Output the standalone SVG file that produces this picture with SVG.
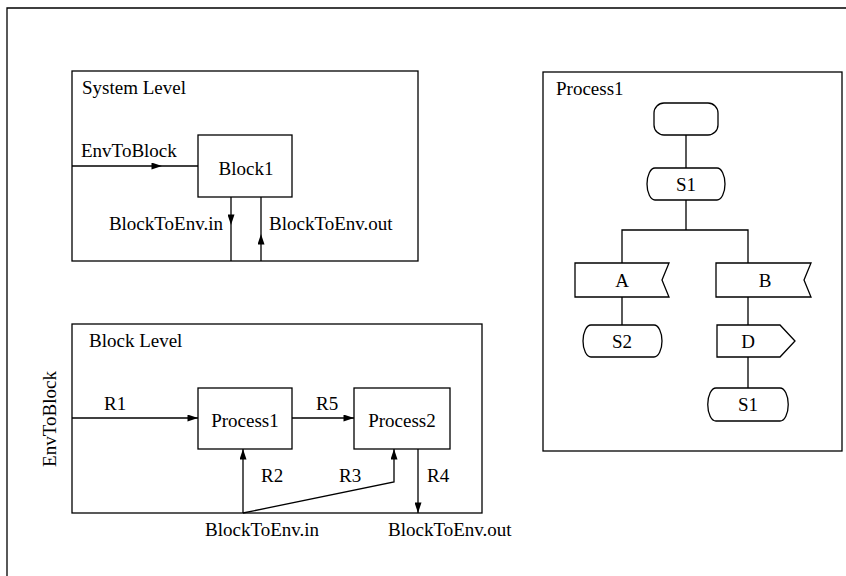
<svg xmlns="http://www.w3.org/2000/svg" width="846" height="576" viewBox="0 0 846 576">
<style>
text{font-family:"Liberation Serif","Times New Roman",serif;font-size:19px;fill:#000}
.c{text-anchor:middle}
.f{fill:#fff;stroke:#000;stroke-width:1.3}
.l{fill:none;stroke:#000;stroke-width:1.3}
</style>
<defs>
<marker id="ah" viewBox="0 0 12 8" refX="12" refY="4" markerWidth="12" markerHeight="7" markerUnits="userSpaceOnUse" orient="auto">
<path d="M0,0 L12,4 L0,8 Z" fill="#000"/>
</marker>
</defs>
<rect width="846" height="576" fill="#fff"/>
<path class="l" d="M7,576 V8 H846"/>

<g id="system-level">
<rect class="f" x="72" y="71" width="346" height="190"/>
<text x="82" y="94">System Level</text>
</g>
<g id="block1">
<rect class="f" x="198" y="135" width="94" height="62"/>
<text x="246" y="175" class="c">Block1</text>
</g>
<g id="block-level">
<rect class="f" x="72" y="324" width="410" height="189"/>
<text x="89" y="347">Block Level</text>
</g>
<g id="process1-node">
<rect class="f" x="198" y="388" width="94" height="61"/>
<text x="245" y="427" class="c">Process1</text>
</g>
<g id="process2-node">
<rect class="f" x="354" y="388" width="96" height="61"/>
<text x="402" y="427" class="c">Process2</text>
</g>
<g id="process1-frame">
<rect class="f" x="543" y="72" width="299" height="379"/>
<text x="556" y="95">Process1</text>
</g>

<g id="connectors">
<path class="l" d="M72,166 H162 H198" marker-mid="url(#ah)"/>
<path class="l" d="M231,197 V225 V261" marker-mid="url(#ah)"/>
<path class="l" d="M261,261 V234 V197" marker-mid="url(#ah)"/>
<path class="l" d="M72,418 H198" marker-end="url(#ah)"/>
<path class="l" d="M292,418 H354" marker-end="url(#ah)"/>
<path class="l" d="M243,513 V449" marker-end="url(#ah)"/>
<path class="l" d="M243,513 L394,482 V449" marker-end="url(#ah)"/>
<path class="l" d="M418,449 V513" marker-end="url(#ah)"/>
<path class="l" d="M686,135 V168 M686,200 V230 M622,263 V230 H748 V263 M622,297 V325 M748,297 V325 M748,357 V388"/>
</g>

<g id="labels">
<text x="81" y="157">EnvToBlock</text>
<text x="223" y="230" text-anchor="end">BlockToEnv.in</text>
<text x="269" y="230">BlockToEnv.out</text>
<text x="104" y="410">R1</text>
<text x="316" y="410">R5</text>
<text x="261" y="482">R2</text>
<text x="339" y="482">R3</text>
<text x="427" y="482">R4</text>
<text x="205" y="536">BlockToEnv.in</text>
<text x="388" y="536">BlockToEnv.out</text>
<text transform="translate(56,419) rotate(-90)" class="c">EnvToBlock</text>
</g>

<g id="start">
<rect class="f" x="654" y="103" width="64" height="32" rx="10"/>
</g>
<g id="state-s1">
<path class="f" d="M655,168 H717 A8 16 0 0 1 717,200 H655 A8 16 0 0 1 655,168 Z"/>
<text x="686" y="191" class="c">S1</text>
</g>
<g id="input-a">
<path class="f" d="M575,263 H669 L662,280 L669,297 H575 Z"/>
<text x="622" y="287" class="c">A</text>
</g>
<g id="input-b">
<path class="f" d="M716,263 H811 L804,280 L811,297 H716 Z"/>
<text x="765" y="287" class="c">B</text>
</g>
<g id="state-s2">
<path class="f" d="M591,325 H654 A8 16 0 0 1 654,357 H591 A8 16 0 0 1 591,325 Z"/>
<text x="622" y="348" class="c">S2</text>
</g>
<g id="output-d">
<path class="f" d="M717,325 H780 L795,341 L780,357 H717 Z"/>
<text x="748" y="348" class="c">D</text>
</g>
<g id="state-s1b">
<path class="f" d="M716,388 H780 A8 16 0 0 1 780,421 H716 A8 16 0 0 1 716,388 Z"/>
<text x="748" y="411" class="c">S1</text>
</g>
</svg>
